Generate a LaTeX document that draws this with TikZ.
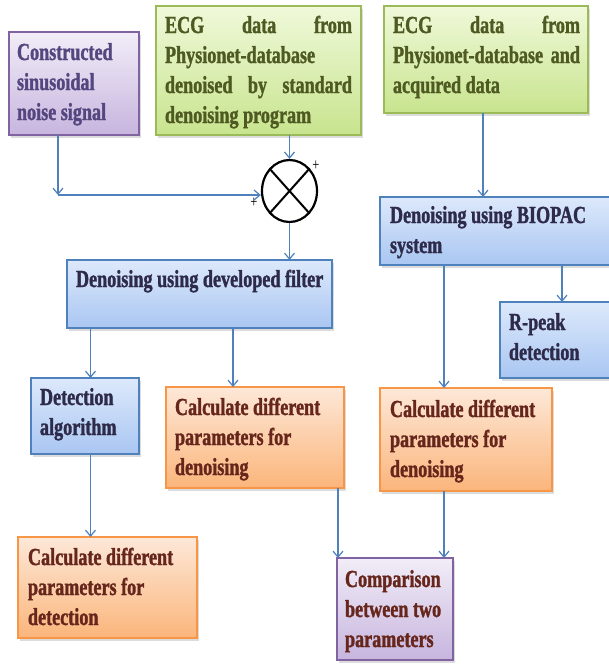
\documentclass[tikz,border=0pt]{standalone}
\usepackage{fontspec}
\setmainfont{Liberation Serif}[FakeStretch=0.74, BoldFont={Liberation Serif Bold}, BoldFeatures={FakeStretch=0.74, FakeBold=1.3}]
\usetikzlibrary{arrows.meta,shadows,shapes.geometric}
\definecolor{arr}{HTML}{4F81BD}
\definecolor{purpT}{HTML}{F2EDF8}\definecolor{purpB}{HTML}{C7B5DE}\definecolor{purpL}{HTML}{8064A2}
\definecolor{grnT}{HTML}{F0F9DA}\definecolor{grnB}{HTML}{C8E48E}\definecolor{grnL}{HTML}{9BBB59}
\definecolor{bluT}{HTML}{DDE9FB}\definecolor{bluB}{HTML}{A9C6F2}\definecolor{bluL}{HTML}{4F81BD}
\definecolor{orgT}{HTML}{FDE8D8}\definecolor{orgB}{HTML}{FBB57B}\definecolor{orgL}{HTML}{F79646}
\definecolor{txP}{HTML}{54467E}
\definecolor{txG}{HTML}{4E5A22}
\definecolor{txB}{HTML}{2E2A4A}
\definecolor{txO}{HTML}{66261C}
\newcommand\bt[5]{\parbox[t][#2pt][t]{#1pt}{\parindent=0pt\leftskip=#3pt\rightskip=0pt plus 1fil\hyphenpenalty=10000\exhyphenpenalty=10000\rule{0pt}{#4pt}#5}}
\tikzset{
  box/.style={anchor=north west, inner sep=0pt, outer sep=0pt, line width=1.1pt,
    font=\fontsize{24.5}{30}\selectfont\bfseries,
    drop shadow={opacity=0.28, shadow xshift=1.5pt, shadow yshift=-2.5pt}},
  pbox/.style={box, draw=purpL, top color=purpT, bottom color=purpB},
  gbox/.style={box, draw=grnL, top color=grnT, bottom color=grnB, text=txG},
  bbox/.style={box, draw=bluL, top color=bluT, bottom color=bluB, text=txB},
  obox/.style={box, draw=orgL, top color=orgT, bottom color=orgB, text=txO},
  ar/.style={draw=arr, line width=1.2pt, -{Straight Barb[length=6pt,width=10pt]}},
  plus/.style={inner sep=0pt, font=\fontsize{17}{17}\selectfont}
}
\begin{document}
\begin{tikzpicture}[x=1pt,y=-1pt]
\useasboundingbox (0,0) rectangle (608,664);
% boxes
\node[pbox, text=txP] (A) at (9,32) {\bt{130}{103}{8}{28}{Constructed\\ sinusoidal\\ noise signal}};
\node[gbox] (B) at (156,6) {\bt{205}{129}{9}{27}{\parbox[t]{187pt}{\rule{0pt}{17pt}ECG\hfill data\hfill from\\ Physionet-database\\ denoised\hfill by\hfill standard\\ denoising program}}};
\node[gbox] (C) at (384,6) {\bt{204}{107}{9}{27}{\parbox[t]{187pt}{\rule{0pt}{17pt}ECG\hfill data\hfill from\\ Physionet-database\hfill and\\ acquired data}}};
\node[ellipse, draw=black, line width=2.2pt, fill=white, minimum width=55pt, minimum height=62pt, inner sep=0pt] (X) at (289.5,191) {};
\draw[line width=2pt] (X.north east) -- (X.south west);
\draw[line width=2pt] (X.north west) -- (X.south east);
\node[plus] (p1) at (316,166) {+};
\node[plus] (p2) at (254,203) {+};
\node[bbox] (D) at (67,260) {\bt{265}{68}{9}{27}{Denoising using developed filter}};
\node[bbox] (E) at (31,378) {\bt{108}{76}{9}{27}{Detection\\ algorithm}};
\node[obox] (F) at (166,387) {\bt{178}{101}{9}{28}{Calculate different\\ parameters for\\ denoising}};
\node[obox] (G) at (18,537) {\bt{179}{101}{10}{28}{Calculate different\\ parameters for\\ detection}};
\node[pbox, text=txO] (H) at (337,558) {\bt{116}{102}{8}{29}{Comparison\\ between two\\ parameters}};
\node[bbox] (I) at (380,197) {\bt{240}{68}{10}{26}{Denoising using BIOPAC\\ system}};
\node[bbox] (J) at (500,302) {\bt{120}{76}{9}{28}{R-peak\\ detection}};
\node[obox] (K) at (380,388) {\bt{172}{103}{10}{29}{Calculate different\\ parameters for\\ denoising}};
% connectors
\coordinate (xA) at (58,195);
\coordinate (x1) at (90.5,0);
\coordinate (x2) at (233,0);
\coordinate (x4) at (338,0);
\coordinate (x5) at (483,0);
\coordinate (x6) at (562,0);
\coordinate (x7) at (444,0);
\draw[ar] (xA |- A.south) -- (xA);
\draw[ar] (xA) -- (xA -| X.west);
\draw[ar] (X.north |- B.south) -- (X.north);
\draw[ar] (X.south) -- (X.south |- D.north);
\draw[ar] (x1 |- D.south) -- (x1 |- E.north);
\draw[ar] (x2 |- D.south) -- (x2 |- F.north);
\draw[ar] (x1 |- E.south) -- (x1 |- G.north);
\draw[ar] (x4 |- F.south) -- (x4 |- H.north);
\draw[ar] (x5 |- C.south) -- (x5 |- I.north);
\draw[ar] (x6 |- I.south) -- (x6 |- J.north);
\draw[ar] (x7 |- I.south) -- (x7 |- K.north);
\draw[ar] (x7 |- K.south) -- (x7 |- H.north);
\end{tikzpicture}
\end{document}
